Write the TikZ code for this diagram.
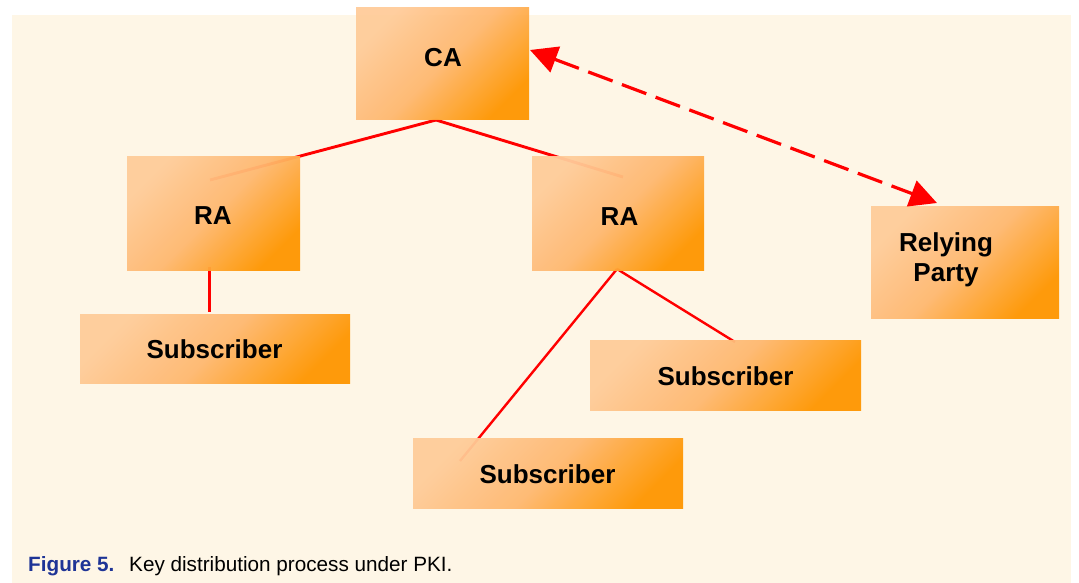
\documentclass[tikz,border=0pt]{standalone}
\usepackage{fontspec}
\setmainfont{Liberation Sans}
\usetikzlibrary{arrows.meta,backgrounds}
\definecolor{cream}{RGB}{254,246,230}
\definecolor{boxlight}{RGB}{255,204,154}
\definecolor{boxmid}{RGB}{255,184,112}
\definecolor{boxdark}{RGB}{255,150,0}
\definecolor{capblue}{RGB}{30,52,150}
\begin{document}
\begin{tikzpicture}[x=1pt,y=-1pt,
  pbox/.style={rectangle, inner sep=0pt, draw=none,
    top color=boxlight, bottom color=boxdark, middle color=boxmid,
    shading angle=45, fill opacity=0.95},
  lbl/.style={inner sep=0pt, align=center, font=\fontsize{26}{30}\selectfont\bfseries},
  link/.style={draw=red, line width=2.9pt},
  thinlink/.style={draw=red, line width=2.4pt},
  dlink/.style={draw=red, line width=3.2pt, dash pattern=on 26pt off 10pt,
    {Triangle[length=27pt,width=27pt]}-{Triangle[length=27pt,width=27pt]}},
  capbold/.style={inner sep=0pt, anchor=base west, font=\fontsize{20.7}{24}\selectfont\bfseries, text=capblue},
  capreg/.style={inner sep=0pt, anchor=base west, font=\fontsize{20.7}{24}\selectfont}
]
\useasboundingbox (0,0) rectangle (1079,583);
% boxes
\node[pbox, minimum width=173pt, minimum height=112pt] (ca) at (442.5,64) {};
\node[pbox, minimum width=173pt, minimum height=113pt] (ra1) at (213.5,213.5) {};
\node[pbox, minimum width=172pt, minimum height=113pt] (ra2) at (618,213.5) {};
\node[pbox, minimum width=188pt, minimum height=112pt] (rp) at (965,262) {};
\node[pbox, minimum width=270pt, minimum height=69pt] (s1) at (215,348.5) {};
\node[pbox, minimum width=271pt, minimum height=70pt] (s2) at (725.5,375) {};
\node[pbox, minimum width=270pt, minimum height=70pt] (s3) at (548,473) {};
% texts
\node[lbl] (catext) at (443,58) {CA};
\node[lbl] (ra1text) at (213,216) {RA};
\node[lbl] (ra2text) at (619.5,216.5) {RA};
\node[lbl] (rptext) at (946,260) {Relying\\Party};
\node[lbl] (s1text) at (214.5,349) {Subscriber};
\node[lbl] (s2text) at (725.5,376) {Subscriber};
\node[lbl] (s3text) at (547.5,474) {Subscriber};
% connector end points
\coordinate (caj) at (436,120);
\coordinate (ra1j) at (210,180);
\coordinate (ra2j) at (623,177);
\coordinate (ra1b) at (209,267);
\coordinate (s1t) at (209,312);
\coordinate (ra2b) at (617,269);
\coordinate (s2t) at (735,342);
\coordinate (s3t) at (460,461);
\coordinate (caR) at (530,50);
\coordinate (rpT) at (937,203);
\begin{scope}[on background layer]
  \fill[white] (0,0) rectangle (1079,583);
  \fill[cream] (12,15) rectangle (1071,583);
  \draw[link] (caj) -- (ra1j);
  \draw[link] (caj) -- (ra2j);
  \draw[link, line width=3pt] (ra1b) -- (s1t);
  \draw[thinlink] (ra2b) -- (s2t);
  \draw[thinlink] (ra2b) -- (s3t);
\end{scope}
\draw[dlink] (caR) -- (rpT);
% caption
\node[capbold] (capnum) at (28,571) {Figure 5.};
\node[capreg] (captext) at (129,571) {Key distribution process under PKI.};
\end{tikzpicture}
\end{document}
